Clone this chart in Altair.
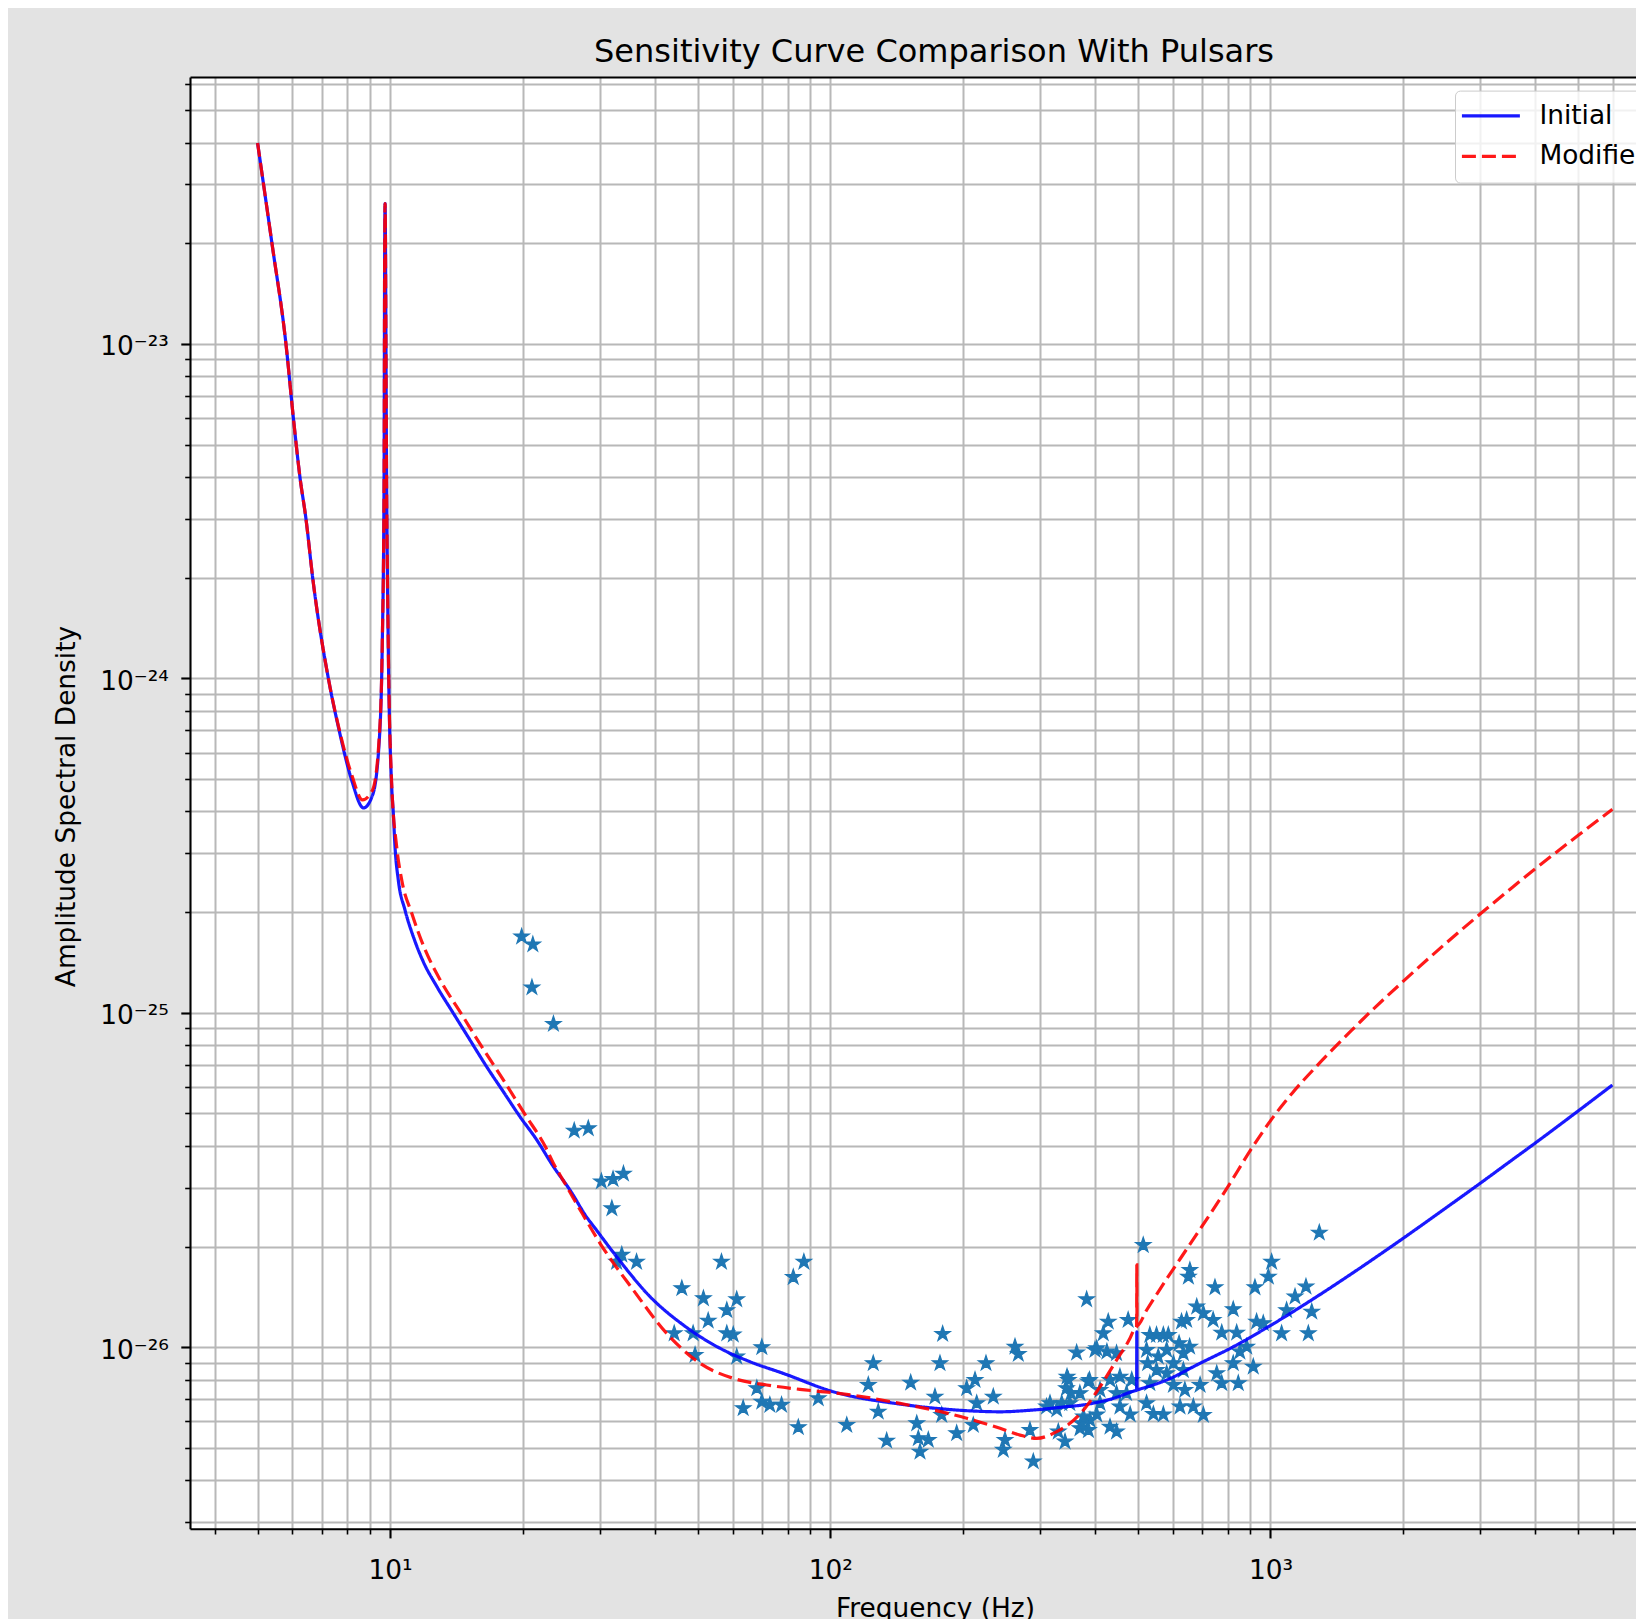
import altair as alt
import pandas as pd

# ---------------- data ----------------
init_f = [5.00, 5.39, 5.80, 6.03, 6.24, 6.44, 6.67, 7.24, 7.67, 8.18, 8.70, 9.13, 9.45, 9.60,
          9.69, 9.72, 9.74, 9.82, 9.91, 10.08, 10.17, 10.26, 10.44, 10.81, 11.29, 11.90, 12.76,
          13.92, 15.19, 16.57, 18.08, 19.73, 21.53, 23.49, 25.63, 27.96, 29.21, 32.7, 38.96,
          46.36, 55.2, 65.7, 78.2, 101.6, 144.0, 204.1, 243.0, 289.2, 344.4, 375.6, 410.1,
          439.4, 492.3, 496.5, 497.0, 497.5, 500.9, 581.1, 691.6, 823.3, 997.5, 1273.5, 1554,
          1913, 2484, 2973, 3559, 3966, 5013, 5980]
init_asd = [3.99e-23, 2.0e-23, 1.0e-23, 6.0e-24, 4.0e-24, 3.0e-24, 2.0e-24, 1.0e-24, 6.94e-25,
            4.96e-25, 4.10e-25, 4.49e-25, 6.53e-25, 1.28e-24, 3.87e-24, 1.88e-23, 2.63e-23,
            3.87e-24, 1.18e-24, 4.8e-25, 3.95e-25, 3.14e-25, 2.49e-25, 2.03e-25, 1.69e-25,
            1.42e-25, 1.20e-25, 9.97e-26, 8.29e-26, 6.90e-26, 5.81e-26, 4.89e-26, 4.17e-26,
            3.47e-26, 2.95e-26, 2.45e-26, 2.27e-26, 1.865e-26, 1.416e-26, 1.165e-26, 1.005e-26,
            9.05e-27, 8.35e-27, 7.36e-27, 6.76e-27, 6.46e-27, 6.41e-27, 6.49e-27, 6.64e-27,
            6.72e-27, 6.87e-27, 7.03e-27, 7.41e-27, 7.43e-27, 1.112e-26, 7.45e-27, 7.47e-27,
            7.98e-27, 8.95e-27, 1.003e-26, 1.159e-26, 1.416e-26, 1.683e-26, 2.03e-26, 2.59e-26,
            3.07e-26, 3.65e-26, 4.05e-26, 5.10e-26, 6.08e-26]

mod_f = [5.00, 5.39, 5.80, 6.03, 6.24, 6.44, 6.67, 7.24, 7.67, 8.18, 8.66, 9.13, 9.45, 9.60,
         9.69, 9.72, 9.74, 9.82, 9.91, 10.08, 10.35, 10.63, 11.20, 11.93, 13.00, 14.49, 16.15,
         18.08, 20.18, 22.52, 23.49, 24.71, 27.33, 29.99, 35.68, 42.5, 50.6, 60.2, 71.7, 85.3,
         101.6, 121.0, 144.0, 171.4, 204.1, 243.0, 269.8, 294.4, 326.9, 350.4, 379.0, 410.1,
         447.3, 479.6, 492.2, 496.5, 497.0, 497.5, 523.4, 581.1, 656, 798, 905, 1018, 1124,
         1275, 1395, 1514, 1612, 1993, 2484, 2989, 3559, 4002, 4995, 5980]
mod_asd = [3.99e-23, 2.0e-23, 1.0e-23, 6.0e-24, 4.0e-24, 3.0e-24, 2.0e-24, 1.0e-24, 7.0e-25,
           5.15e-25, 4.33e-25, 4.65e-25, 6.7e-25, 1.28e-24, 3.87e-24, 1.88e-23, 2.63e-23,
           3.87e-24, 1.2e-24, 4.9e-25, 3.14e-25, 2.49e-25, 1.984e-25, 1.577e-25, 1.253e-25,
           9.97e-26, 7.92e-26, 6.30e-26, 5.00e-26, 3.98e-26, 3.55e-26, 3.16e-26, 2.51e-26,
           2.045e-26, 1.483e-26, 1.1e-26, 8.95e-27, 8.07e-27, 7.71e-27, 7.48e-27, 7.31e-27,
           7.08e-27, 6.79e-27, 6.49e-27, 6.13e-27, 5.72e-27, 5.46e-27, 5.34e-27, 5.59e-27,
           5.92e-27, 6.57e-27, 7.62e-27, 9.16e-27, 1.063e-26, 1.141e-26, 1.15e-26, 1.762e-26,
           1.16e-26, 1.292e-26, 1.60e-26, 2.03e-26, 3.0e-26, 3.92e-26, 4.91e-26, 5.78e-26,
           6.94e-26, 7.85e-26, 8.75e-26, 9.5e-26, 1.235e-25, 1.60e-25, 1.97e-25, 2.383e-25,
           2.70e-25, 3.39e-25, 4.06e-25]

pulsar_f = [19.9, 21.1, 21.0, 23.5, 26.2, 28.2, 30.2, 32.1, 33.9, 31.9, 33.6, 32.7, 36.3, 56.6,
            46.0, 51.5, 61.3, 58.2, 52.8, 44.2, 48.8, 58.2, 60.2, 69.9, 49.3, 61.3, 82.4, 87.1,
            68.1, 63.4, 69.9, 72.9, 77.5, 84.6, 93.9, 109.0, 125.2, 122.0, 128.5, 134.3, 152.3,
            157.2, 158.5, 159.9, 167.0, 180.0, 177.5, 172.9, 179.1, 193.7, 204.1, 213.2, 215.1,
            211.3, 225.8, 234.6, 262.8, 267.4, 249.4, 247.2, 284.2, 289.2, 315.6, 329.6, 341.4,
            347.4, 352.0, 335.6, 362.8, 382.3, 385.5, 369.2, 389.0, 399.3, 514, 656, 651, 748,
            922, 989, 1006, 1291, 1204, 1137, 1088, 1241, 1219, 1060, 823, 741, 680, 645, 628,
            704, 775, 838, 930, 963, 883, 914, 852, 823, 845, 775, 755, 692, 639, 668, 704, 428,
            475, 417, 532, 551, 571, 586, 620, 655, 634, 403, 425, 447, 523, 556, 581, 526, 602,
            551, 581, 634, 345, 388, 432, 455, 484, 344, 369, 410, 447, 471, 532, 602, 310, 327,
            350, 410, 455, 480, 523, 542, 571, 623, 372, 386, 432, 447, 376, 403]
pulsar_asd = [1.69e-25, 1.60e-25, 1.19e-25, 9.26e-26, 4.44e-26, 4.51e-26, 3.13e-26, 3.18e-26,
              3.30e-26, 2.60e-26, 1.89e-26, 1.80e-26, 1.80e-26, 1.80e-26, 1.50e-26, 1.40e-26,
              1.39e-26, 1.29e-26, 1.20e-26, 1.10e-26, 1.10e-26, 1.10e-26, 1.09e-26, 1.00e-26,
              9.48e-27, 9.37e-27, 1.62e-26, 1.80e-26, 7.54e-27, 6.57e-27, 6.87e-27, 6.72e-27,
              6.72e-27, 5.76e-27, 7.03e-27, 5.85e-27, 8.95e-27, 7.71e-27, 6.41e-27, 5.25e-27,
              7.83e-27, 5.92e-27, 5.34e-27, 4.87e-27, 5.28e-27, 1.095e-26, 8.95e-27, 7.11e-27,
              6.27e-27, 5.53e-27, 7.54e-27, 7.98e-27, 6.80e-27, 5.85e-27, 8.95e-27, 7.11e-27,
              1.003e-26, 9.54e-27, 5.28e-27, 4.93e-27, 5.65e-27, 4.55e-27, 6.80e-27, 5.59e-27,
              5.22e-27, 7.98e-27, 7.28e-27, 6.80e-27, 9.63e-27, 1.39e-26, 7.89e-27, 5.72e-27,
              6.06e-27, 9.81e-27, 2.02e-26, 1.70e-26, 1.625e-26, 1.51e-26, 1.51e-26, 1.625e-26,
              1.80e-26, 2.20e-26, 1.517e-26, 1.416e-26, 1.29e-26, 1.277e-26, 1.10e-26, 1.10e-26,
              1.298e-26, 1.206e-26, 1.322e-26, 1.206e-26, 1.192e-26, 1.263e-26, 1.105e-26,
              1.105e-26, 1.192e-26, 1.179e-26, 1.003e-26, 8.74e-27, 9.70e-27, 8.95e-27, 7.80e-27,
              7.80e-27, 8.35e-27, 7.71e-27, 7.45e-27, 6.64e-27, 6.27e-27, 1.192e-26, 1.206e-26,
              1.10e-26, 1.088e-26, 1.088e-26, 1.088e-26, 1.088e-26, 1.027e-26, 1.003e-26,
              9.59e-27, 9.92e-27, 9.70e-27, 9.59e-27, 9.81e-27, 9.37e-27, 9.81e-27, 8.95e-27,
              8.95e-27, 8.54e-27, 8.35e-27, 8.54e-27, 8.16e-27, 7.98e-27, 7.98e-27, 8.16e-27,
              7.98e-27, 7.54e-27, 7.28e-27, 7.45e-27, 7.28e-27, 7.28e-27, 7.80e-27, 7.71e-27,
              6.64e-27, 6.51e-27, 6.80e-27, 6.80e-27, 6.64e-27, 6.29e-27, 6.80e-27, 6.31e-27,
              6.29e-27, 6.64e-27, 5.92e-27, 5.65e-27, 5.78e-27, 5.59e-27, 6.20e-27, 6.29e-27]

series_names = ["Initial", "Modified"]
series_colors = ["#0000ff", "#ff0000"]
series_dash = [[1, 0], [14, 6]]

x_domain = [3.511, 6767]
y_domain = [2.866e-27, 6.286e-23]

x_tick_values = [m * 10 ** e for e in range(0, 4) for m in range(1, 10)
                 if x_domain[0] <= m * 10 ** e <= x_domain[1]]
y_tick_values = [float(f"{m}e{e}") for e in range(-27, -22) for m in range(1, 10)
                 if y_domain[0] <= float(f"{m}e{e}") <= y_domain[1]]
x_labels = {10: "10\u00b9", 100: "10\u00b2", 1000: "10\u00b3"}
y_labels = {"1e-23": "10\u207b\u00b2\u00b3", "1e-24": "10\u207b\u00b2\u2074",
            "1e-25": "10\u207b\u00b2\u2075", "1e-26": "10\u207b\u00b2\u2076"}

# ---------------- tables ----------------
curves = pd.DataFrame({
    "Frequency": init_f + mod_f,
    "ASD": init_asd + mod_asd,
    "Curve": [series_names[0]] * len(init_f) + [series_names[1]] * len(mod_f),
})
pulsars = pd.DataFrame({"Frequency": pulsar_f, "ASD": pulsar_asd})

FONT = "DejaVu Sans"
MAJOR = "abs(log(datum.value)/LN10 - round(log(datum.value)/LN10)) < 0.000001"
STAR = ("M0,-1L0.2245,-0.309L0.9511,-0.309L0.3633,0.118L0.5878,0.809L0,0.382"
        "L-0.5878,0.809L-0.3633,0.118L-0.9511,-0.309L-0.2245,-0.309Z")
LEGEND_LINE = "M-4,0L4,0"

x_label_expr = " : ".join(f"datum.value == {k} ? '{v}'" for k, v in x_labels.items()) + " : ''"
y_label_expr = " : ".join(f"datum.value == {k} ? '{v}'" for k, v in y_labels.items()) + " : ''"

tick_size = {"condition": {"test": MAJOR, "value": 9.2}, "value": 5.3}
tick_width = {"condition": {"test": MAJOR, "value": 2.1}, "value": 1.6}

xscale = alt.Scale(type="log", domain=x_domain, nice=False)
yscale = alt.Scale(type="log", domain=y_domain, nice=False)

GRID = "#b8b8b8"

bottom_axis = alt.Axis(
    values=x_tick_values, grid=True, gridColor=GRID, gridWidth=2,
    tickSize=tick_size, tickWidth=tick_width, tickColor="black",
    domain=True, domainColor="black", domainWidth=2.1,
    labelExpr=x_label_expr, labelFont=FONT, labelFontSize=26.4, labelColor="black",
    labelPadding=20, labelOverlap=False, labelFlush=False,
    title="Frequency (Hz)", titleFont=FONT, titleFontSize=26.4, titleFontWeight="normal",
    titleColor="black", titleX=745, titleY=88, titleBaseline="alphabetic", titleAlign="center",
)
top_axis = alt.Axis(orient="top", domain=True, domainColor="black", domainWidth=2.1,
                    ticks=False, labels=False, grid=False, title=None)
y_axis = alt.Axis(
    values=y_tick_values, grid=True, gridColor=GRID, gridWidth=2,
    tickSize=tick_size, tickWidth=tick_width, tickColor="black",
    domain=True, domainColor="black", domainWidth=2.1,
    labelExpr=y_label_expr, labelFont=FONT, labelFontSize=26.4, labelColor="black",
    labelPadding=12.5, labelOffset=3, labelOverlap=False, labelFlush=False,
    title="Amplitude Spectral Density", titleFont=FONT, titleFontSize=26.4,
    titleFontWeight="normal", titleColor="black", titleX=-115.5, titleY=729,
    titleBaseline="alphabetic", titleAlign="center", titleAngle=270,
)

leg = alt.Legend(
    title=None, orient="none", legendX=1265, legendY=13.6,
    symbolType=LEGEND_LINE, symbolSize=210, symbolStrokeWidth=3.2, symbolOffset=10.7,
    labelFont=FONT, labelFontSize=26.4, labelColor="black", labelOffset=35.3,
    padding=12, rowPadding=13.6, fillColor="rgba(255,255,255,0.8)",
    strokeColor="#cccccc", cornerRadius=5,
)

stars = alt.Chart(pulsars).mark_point(
    shape=STAR, filled=True, size=256, color="#1f77b4", stroke="#1f77b4",
    strokeWidth=1.2, opacity=1
).encode(
    x=alt.X("Frequency:Q", scale=xscale, axis=bottom_axis),
    y=alt.Y("ASD:Q", scale=yscale, axis=y_axis),
)

lines = alt.Chart(curves).mark_line(strokeWidth=3.2, opacity=0.9, interpolate="monotone").encode(
    x=alt.X("Frequency:Q", scale=xscale, axis=top_axis),
    y=alt.Y("ASD:Q", scale=yscale),
    color=alt.Color("Curve:N", scale=alt.Scale(domain=series_names, range=series_colors), legend=leg),
    strokeDash=alt.StrokeDash("Curve:N", scale=alt.Scale(domain=series_names, range=series_dash), legend=leg),
)

chart = alt.layer(stars, lines).resolve_axis(x="independent").properties(
    width=1446, height=1451.7,
    title=alt.TitleParams("Sensitivity Curve Comparison With Pulsars", font=FONT, fontSize=32,
                          fontWeight="normal", color="black", anchor="middle", frame="group",
                          dx=21, dy=34.7, offset=14, baseline="alphabetic"),
    padding={"left": 182, "top": 69, "right": 0, "bottom": 90.3},
    autosize=alt.AutoSizeParams(type="none"),
    background="#e3e3e3",
    view=alt.ViewBackground(fill="white", stroke=None),
).configure_view(stroke=None, fill="white").configure(font=FONT)

chart.save("out.html", embed_options={"renderer": "svg", "actions": False})
